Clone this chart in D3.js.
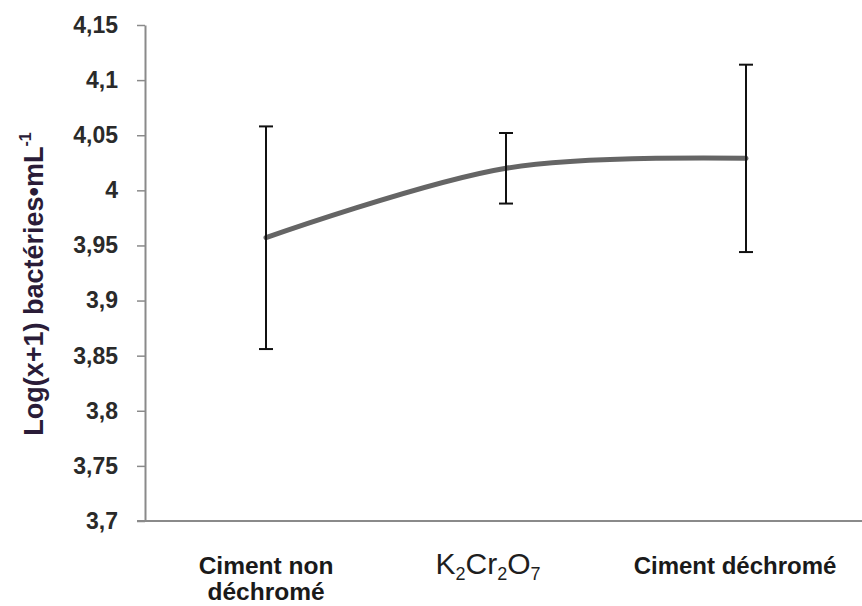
<!DOCTYPE html>
<html lang="fr">
  <head>
    <meta charset="utf-8">
    <title>Log(x+1) bactéries</title>
    <script src="https://cdn.jsdelivr.net/npm/d3@7"></script>
    <style type="text/css">
     body { margin: 0; background: #fff; }
     svg { display: block; }
    </style>
  </head>
  <body>
    <script type="text/javascript">

     // data
     let categories = ["Ciment non déchromé", "K2Cr2O7", "Ciment déchromé"];
     let means = [3.957, 4.020, 4.029];
     let errors = [0.101, 0.032, 0.085];
     let yTicks = [3.7, 3.75, 3.8, 3.85, 3.9, 3.95, 4, 4.05, 4.1, 4.15];

     let w = 862;
     let h = 606;
     let margin = {top: 25, right: -4, bottom: 85, left: 145};

     let svg = d3.select("body").append("svg")
		 .attr("width", w)
		 .attr("height", h);

     let xScale = d3.scalePoint()
		    .domain(categories)
		    .range([margin.left + 121, w - margin.right - 120]);
     let yScale = d3.scaleLinear()
		    .domain([3.7, 4.15])
		    .range([h - margin.bottom, margin.top]);

     let fmt = d => String(d).replace(".", ",");
     let font = "Liberation Sans, Arial, sans-serif";

     // y axis
     let yAxis = svg.append("g")
		    .attr("transform", "translate(" + margin.left + ",0)")
		    .call(d3.axisLeft(yScale).tickValues(yTicks).tickFormat(fmt).tickSize(8).tickSizeOuter(0));
     yAxis.select(".domain").attr("stroke", "#8a8a8a").attr("stroke-width", 2);
     yAxis.selectAll(".tick line").attr("stroke", "#8a8a8a").attr("stroke-width", 1.5);
     yAxis.selectAll(".tick text")
	  .attr("x", -27)
	  .attr("fill", "#2a2a2a")
	  .style("font-family", font)
	  .style("font-size", "23px")
	  .style("font-weight", "bold");

     // x axis: plain line, no ticks
     svg.append("line")
	.attr("x1", margin.left - 8)
	.attr("x2", w)
	.attr("y1", yScale(3.7))
	.attr("y2", yScale(3.7))
	.attr("stroke", "#8a8a8a")
	.attr("stroke-width", 2);

     // category labels (Excel does not quite centre them on the points)
     let labelShift = [0, -18, -11];
     let lab = svg.append("g");

     let x0 = xScale(categories[0]) + labelShift[0];
     let t0 = lab.append("text")
		 .attr("y", 574)
		 .attr("text-anchor", "middle")
		 .attr("fill", "#1a1a1a")
		 .style("font-family", font)
		 .style("font-size", "24.5px")
		 .style("font-weight", "bold");
     t0.append("tspan").attr("x", x0).text("Ciment non");
     t0.append("tspan").attr("x", x0).attr("dy", 26).text("déchromé");

     // K2Cr2O7 with subscripts
     let t1 = lab.append("text")
		 .attr("x", xScale(categories[1]) + labelShift[1])
		 .attr("y", 574)
		 .attr("text-anchor", "middle")
		 .attr("fill", "#1e1e1e")
		 .style("font-family", font)
		 .style("font-size", "30px");
     [["K", false], ["2", true], ["Cr", false], ["2", true], ["O", false], ["7", true]].forEach((p, i) => {
       let s = t1.append("tspan").text(p[0]);
       if (p[1]) s.attr("dy", 6).style("font-size", "18px");
       else if (i > 0) s.attr("dy", -6);
     });

     lab.append("text")
	.attr("x", xScale(categories[2]) + labelShift[2])
	.attr("y", 574)
	.attr("text-anchor", "middle")
	.attr("fill", "#1a1a1a")
	.style("font-family", font)
	.style("font-size", "24px")
	.style("font-weight", "bold")
	.text(categories[2]);

     // y title
     let title = svg.append("text")
		    .attr("transform", "translate(43,284) rotate(-90)")
		    .attr("text-anchor", "middle")
		    .attr("fill", "#2a1c38")
		    .style("font-family", font)
		    .style("font-size", "27px")
		    .style("font-weight", "bold");
     title.append("tspan").text("Log(x+1) bactéries•mL");
     title.append("tspan").attr("dy", -12).style("font-size", "16px").text("-1");

     // smoothed mean line
     let pts = categories.map((c, i) => [xScale(c), yScale(means[i])]);
     svg.append("path")
	.datum(pts)
	.attr("d", d3.line().curve(d3.curveCardinal.tension(0)))
	.attr("fill", "none")
	.attr("stroke", "#656565")
	.attr("stroke-width", 5)
	.attr("stroke-linecap", "round");

     // error bars
     let eb = svg.append("g").attr("stroke", "#111").attr("stroke-width", 2);
     categories.forEach((c, i) => {
       let x = xScale(c);
       let y1 = yScale(means[i] + errors[i]);
       let y2 = yScale(means[i] - errors[i]);
       eb.append("line").attr("x1", x).attr("x2", x).attr("y1", y1).attr("y2", y2);
       eb.append("line").attr("x1", x - 7).attr("x2", x + 7).attr("y1", y1).attr("y2", y1);
       eb.append("line").attr("x1", x - 7).attr("x2", x + 7).attr("y1", y2).attr("y2", y2);
     });
    </script>
  </body>
</html>
